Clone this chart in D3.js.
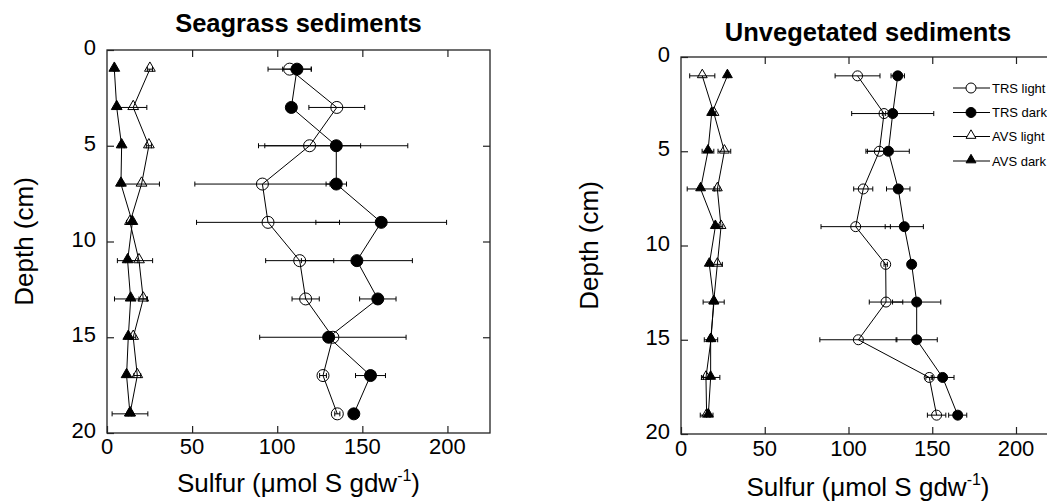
<!DOCTYPE html>
<html>
<head>
<meta charset="utf-8">
<script src="https://cdn.jsdelivr.net/npm/d3@7"></script>
<style>
  html, body { margin: 0; padding: 0; background: #fff; }
  svg { display: block; font-family: "Liberation Sans", Arial, sans-serif; }
</style>
</head>
<body>
<svg id="chart" width="1047" height="502"></svg>
<script>
// ---- data ----
const depths = [1, 3, 5, 7, 9, 11, 13, 15, 17, 19];
const depthTicks = [0, 5, 10, 15, 20];
const sulfurTicks = [0, 50, 100, 150, 200];
const seriesNames = ["TRS light", "TRS dark", "AVS light", "AVS dark"];

// Seagrass sediments
const seagrassTRSlight    = [107.3, 135, 119, 91.3, 94.6, 113.2, 116.7, 132.7, 126.9, 135.3];
const seagrassTRSlightErr = [12.7, 16.4, 30, 39.7, 42, 20, 8, 43, 2, 1.5];
const seagrassTRSdark     = [111.6, 108.3, 134.7, 134.7, 161.1, 146.8, 159.1, 130.2, 154.8, 145];
const seagrassTRSdarkErr  = [8.4, 1, 42, 6, 38.4, 32.6, 10.7, 3, 8.8, 0];
const seagrassAVSlight    = [25.2, 15.4, 24.6, 20.3, 13.5, 18.8, 21.3, 15.4, 17.8, 13.5];
const seagrassAVSlightErr = [1.5, 8, 1.5, 10.5, 2, 8, 2.5, 1.5, 2, 1];
const seagrassAVSdark     = [4.3, 5.7, 8.6, 8.2, 14.9, 12.1, 13.9, 12.5, 11.5, 13.5];
const seagrassAVSdarkErr  = [0.5, 0.5, 1.5, 1, 1.5, 6, 9.5, 1.5, 1, 10.5];

// Unvegetated sediments
const unvegTRSlight    = [105.4, 121.2, 118.4, 108.8, 104.3, 122.2, 122.4, 105.9, 148.2, 152.6];
const unvegTRSlightErr = [13.4, 1, 8, 5.7, 20.7, 1, 10, 23, 2, 5.5];
const unvegTRSdark     = [129.4, 126.4, 123.8, 129.7, 133.3, 137.7, 140.7, 140.7, 156.2, 165.2];
const unvegTRSdarkErr  = [4, 24.5, 12.5, 7, 11.4, 0.5, 14.4, 12.3, 6.8, 5.4];
const unvegAVSlight    = [12.7, 19.7, 25.9, 21.7, 23.9, 21.7, 19.5, 17.9, 14.9, 15.3];
const unvegAVSlightErr = [7.5, 1, 3.8, 1.5, 1, 3, 6.3, 4, 1.5, 3.8];
const unvegAVSdark     = [27.7, 18.3, 16.1, 11.7, 20.5, 16.9, 19.7, 17.7, 17.7, 16.3];
const unvegAVSdarkErr  = [0.5, 1, 3.5, 8, 1, 1, 1, 1, 5.5, 1];

// ---- drawing ----
const svg = d3.select("#chart");

function drawPanel(cfg) {
  const g = svg.append("g");
  const x = d3.scaleLinear().domain([0, 225]).range([cfg.left, cfg.right]);
  const y = d3.scaleLinear().domain([0, 20]).range([cfg.top, cfg.bottom]);
  const tickLen = 7;

  // frame
  g.append("rect")
    .attr("x", x(0)).attr("y", y(0))
    .attr("width", x(225) - x(0)).attr("height", y(20) - y(0))
    .attr("fill", "none").attr("stroke", "#222").attr("stroke-width", 1.3);

  // axes with inward ticks
  const axB = d3.axisBottom(x).tickValues(sulfurTicks).tickSize(-tickLen).tickFormat("");
  const axT = d3.axisTop(x).tickValues(sulfurTicks.slice(1)).tickSize(-tickLen).tickFormat("");
  const axL = d3.axisLeft(y).tickValues(depthTicks).tickSize(-tickLen).tickFormat("");
  const axR = d3.axisRight(y).tickValues(depthTicks.slice(1, 4)).tickSize(-tickLen).tickFormat("");
  [[axB, `translate(0,${y(20)})`], [axT, `translate(0,${y(0)})`],
   [axL, `translate(${x(0)},0)`], [axR, `translate(${x(225)},0)`]].forEach(([ax, tr]) => {
    const a = g.append("g").attr("transform", tr).call(ax);
    a.select(".domain").remove();
    a.selectAll("line").attr("stroke", "#222").attr("stroke-width", 1.2);
  });

  // tick labels
  g.selectAll(".xl").data(sulfurTicks).enter().append("text")
    .attr("x", d => x(d)).attr("y", y(20) + cfg.xLabelDy)
    .attr("text-anchor", "middle").attr("font-size", 22).text(d => d);
  g.selectAll(".yl").data(depthTicks).enter().append("text")
    .attr("x", x(0) - 11).attr("y", d => y(d) + 5)
    .attr("text-anchor", "end").attr("font-size", 22).text(d => d);

  // titles
  const cx = cfg.titleX;
  g.append("text").attr("x", cx).attr("y", cfg.titleY)
    .attr("text-anchor", "middle").attr("font-size", 25.5).attr("font-weight", "bold")
    .text(cfg.title);
  g.append("text")
    .attr("transform", `translate(${cfg.yTitleX},${(y(0) + y(20)) / 2}) rotate(-90)`)
    .attr("text-anchor", "middle").attr("font-size", 26).text("Depth (cm)");
  const xt = g.append("text").attr("x", cx).attr("y", cfg.xTitleY)
    .attr("text-anchor", "middle").attr("font-size", 26);
  xt.append("tspan").text("Sulfur (\u03bcmol S gdw");
  xt.append("tspan").attr("font-size", 16).attr("dy", -11).text("-1");
  xt.append("tspan").attr("dy", 11).text(")");

  const series = cfg.series;
  const line = d3.line().x(d => x(d.v)).y(d => y(d.d));

  // lines
  series.forEach(s => {
    const pts = depths.map((d, i) => ({ d, v: s.values[i] }));
    g.append("path").datum(pts).attr("d", line)
      .attr("fill", "none").attr("stroke", "#000").attr("stroke-width", 1);
  });
  // error bars
  series.forEach(s => {
    const pts = depths.map((d, i) => ({ d, v: s.values[i], e: s.err[i] }));
    const eb = g.append("g");
    pts.filter(p => p.e > 0).forEach(p => {
      eb.append("line").attr("x1", x(p.v - p.e)).attr("x2", x(p.v + p.e))
        .attr("y1", y(p.d)).attr("y2", y(p.d)).attr("stroke", "#000").attr("stroke-width", 1);
      [p.v - p.e, p.v + p.e].forEach(v => {
        eb.append("line").attr("x1", x(v)).attr("x2", x(v))
          .attr("y1", y(p.d) - 2.5).attr("y2", y(p.d) + 2.5).attr("stroke", "#000").attr("stroke-width", 1);
      });
    });
  });
  // markers: open first, then filled
  const order = [0, 2, 1, 3];
  order.forEach(k => {
    const s = series[k];
    const pts = depths.map((d, i) => ({ d, v: s.values[i] }));
    const filled = s.filled;
    if (s.shape === "circle") {
      g.selectAll(null).data(pts).enter().append("circle")
        .attr("cx", p => x(p.v)).attr("cy", p => y(p.d)).attr("r", cfg.r)
        .attr("fill", filled ? "#000" : "none").attr("stroke", "#000").attr("stroke-width", 1);
    } else {
      const sym = d3.symbol().type(d3.symbolTriangle).size(cfg.triSize);
      g.selectAll(null).data(pts).enter().append("path")
        .attr("d", sym)
        .attr("transform", p => `translate(${x(p.v)},${y(p.d) - 1})`)
        .attr("fill", filled ? "#000" : "#fff").attr("fill-opacity", filled ? 1 : 0)
        .attr("stroke", "#000").attr("stroke-width", 1);
    }
  });

  if (cfg.legend) {
    const lg = g.append("g");
    const ly = [88, 112.5, 136.5, 161];
    series.forEach((s, i) => {
      lg.append("line").attr("x1", 953).attr("x2", 990).attr("y1", ly[i]).attr("y2", ly[i])
        .attr("stroke", "#000").attr("stroke-width", 1);
      if (s.shape === "circle") {
        lg.append("circle").attr("cx", 971).attr("cy", ly[i]).attr("r", 5)
          .attr("fill", s.filled ? "#000" : "#fff").attr("stroke", "#000");
      } else {
        lg.append("path").attr("d", d3.symbol().type(d3.symbolTriangle).size(42))
          .attr("transform", `translate(971,${ly[i] - 1})`)
          .attr("fill", s.filled ? "#000" : "#fff").attr("stroke", "#000");
      }
      lg.append("text").attr("x", 992).attr("y", ly[i] + 4.5)
        .attr("font-size", 13).text(seriesNames[i]);
    });
  }
}

drawPanel({
  left: 107, right: 490, top: 50, bottom: 433,
  title: "Seagrass sediments", titleX: 298.5, titleY: 32,
  yTitleX: 33, xTitleY: 492, xLabelDy: 21, r: 6, triSize: 50, legend: false,
  series: [
    { values: seagrassTRSlight, err: seagrassTRSlightErr, shape: "circle", filled: false },
    { values: seagrassTRSdark, err: seagrassTRSdarkErr, shape: "circle", filled: true },
    { values: seagrassAVSlight, err: seagrassAVSlightErr, shape: "tri", filled: false },
    { values: seagrassAVSdark, err: seagrassAVSdarkErr, shape: "tri", filled: true }
  ]
});

drawPanel({
  left: 681, right: 681 + 225 * 1.675, top: 57, bottom: 434,
  title: "Unvegetated sediments", titleX: 868, titleY: 41,
  yTitleX: 598, xTitleY: 496, xLabelDy: 22, r: 5, triSize: 42, legend: true,
  series: [
    { values: unvegTRSlight, err: unvegTRSlightErr, shape: "circle", filled: false },
    { values: unvegTRSdark, err: unvegTRSdarkErr, shape: "circle", filled: true },
    { values: unvegAVSlight, err: unvegAVSlightErr, shape: "tri", filled: false },
    { values: unvegAVSdark, err: unvegAVSdarkErr, shape: "tri", filled: true }
  ]
});
</script>
</body>
</html>
